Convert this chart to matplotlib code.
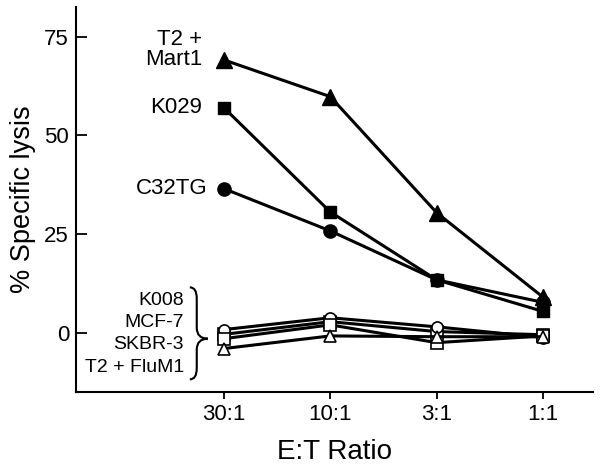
import numpy as np
import matplotlib.pyplot as plt
from matplotlib.path import Path
from matplotlib.patches import PathPatch

plt.rcParams['font.family'] = ['Liberation Sans', 'DejaVu Sans']

ratios = ["30:1", "10:1", "3:1", "1:1"]

# positive targets (filled markers)
t2_mart1 = [69.1, 59.8, 30.4, 9.0]
k029 = [57.0, 30.6, 13.4, 5.4]
c32tg = [36.5, 25.8, 13.4, 7.7]

# negative targets (open markers)
k008 = [0.8, 3.8, 1.5, -1.2]
mcf7 = [-1.5, 2.0, -2.5, -0.8]
skbr3 = [-0.4, 2.8, 0.3, -0.5]
t2_flum1 = [-4.0, -0.8, -1.0, -1.0]

x = np.arange(len(ratios))

fig = plt.figure(figsize=(6.02, 4.72), dpi=100)
ax = fig.add_axes([0.1262, 0.1695, 0.859, 0.8157])

lw = 2.2
ax.plot(x, t2_mart1, color='black', lw=lw, marker='^', ms=11, zorder=4)
ax.plot(x, k029, color='black', lw=lw, marker='s', ms=8.5, zorder=4)
ax.plot(x, c32tg, color='black', lw=lw, marker='o', ms=9.5, zorder=4)

for vals, m in [(skbr3, 's'), (k008, 'o'), (mcf7, 's'), (t2_flum1, '^')]:
    ax.plot(x, vals, color='black', lw=lw, marker=m, ms=8,
            mfc='white', mec='black', mew=1.2, zorder=3)

# labels for the positive series
ax.annotate("T2 +\nMart1", (x[0], t2_mart1[0]), xytext=(-15.5, 7.5),
            textcoords='offset points', ha='right', va='center',
            fontsize=16, linespacing=0.95)
ax.annotate("K029", (x[0], k029[0]), xytext=(-15.5, 0),
            textcoords='offset points', ha='right', va='center', fontsize=16)
ax.annotate("C32TG", (x[0], c32tg[0]), xytext=(-12, 0),
            textcoords='offset points', ha='right', va='center', fontsize=16)

# labels for the negative group with a brace
neg_labels = ["K008", "MCF-7", "SKBR-3", "T2 + FluM1"]
neg_label_y = [8.2, 2.6, -2.9, -8.7]
for lab, yy in zip(neg_labels, neg_label_y):
    ax.text(-0.376, yy, lab, ha='right', va='center', fontsize=14)

x0, x1, x2 = -0.32, -0.255, -0.15
ytop, ybot, ymid, r = 11.5, -11.8, -1.5, 2.8
verts = [(x0, ytop), (x1, ytop), (x1, ytop - r),
         (x1, ymid + r),
         (x1, ymid), (x2, ymid),
         (x1, ymid), (x1, ymid - r),
         (x1, ybot + r),
         (x1, ybot), (x0, ybot)]
codes = [Path.MOVETO, Path.CURVE3, Path.CURVE3,
         Path.LINETO,
         Path.CURVE3, Path.CURVE3,
         Path.CURVE3, Path.CURVE3,
         Path.LINETO,
         Path.CURVE3, Path.CURVE3]
ax.add_patch(PathPatch(Path(verts, codes), fc='none', ec='black', lw=1.5))

ax.set_xlim(-1.39, 3.47)
ax.set_ylim(-15, 82.5)
ax.set_xticks(x)
ax.set_xticklabels(ratios)
ax.set_yticks([0, 25, 50, 75])

for s in ['top', 'right']:
    ax.spines[s].set_visible(False)
for s in ['left', 'bottom']:
    ax.spines[s].set_linewidth(1.5)
ax.tick_params(axis='x', direction='out', length=5, width=1.3,
               labelsize=16, pad=4)
ax.tick_params(axis='y', direction='in', length=8, width=1.3,
               labelsize=16, pad=5)

ax.set_xlabel("E:T Ratio", fontsize=20, labelpad=10)
ax.set_ylabel("% Specific lysis", fontsize=19.5, labelpad=6)

fig.savefig("out.png", dpi=100)
